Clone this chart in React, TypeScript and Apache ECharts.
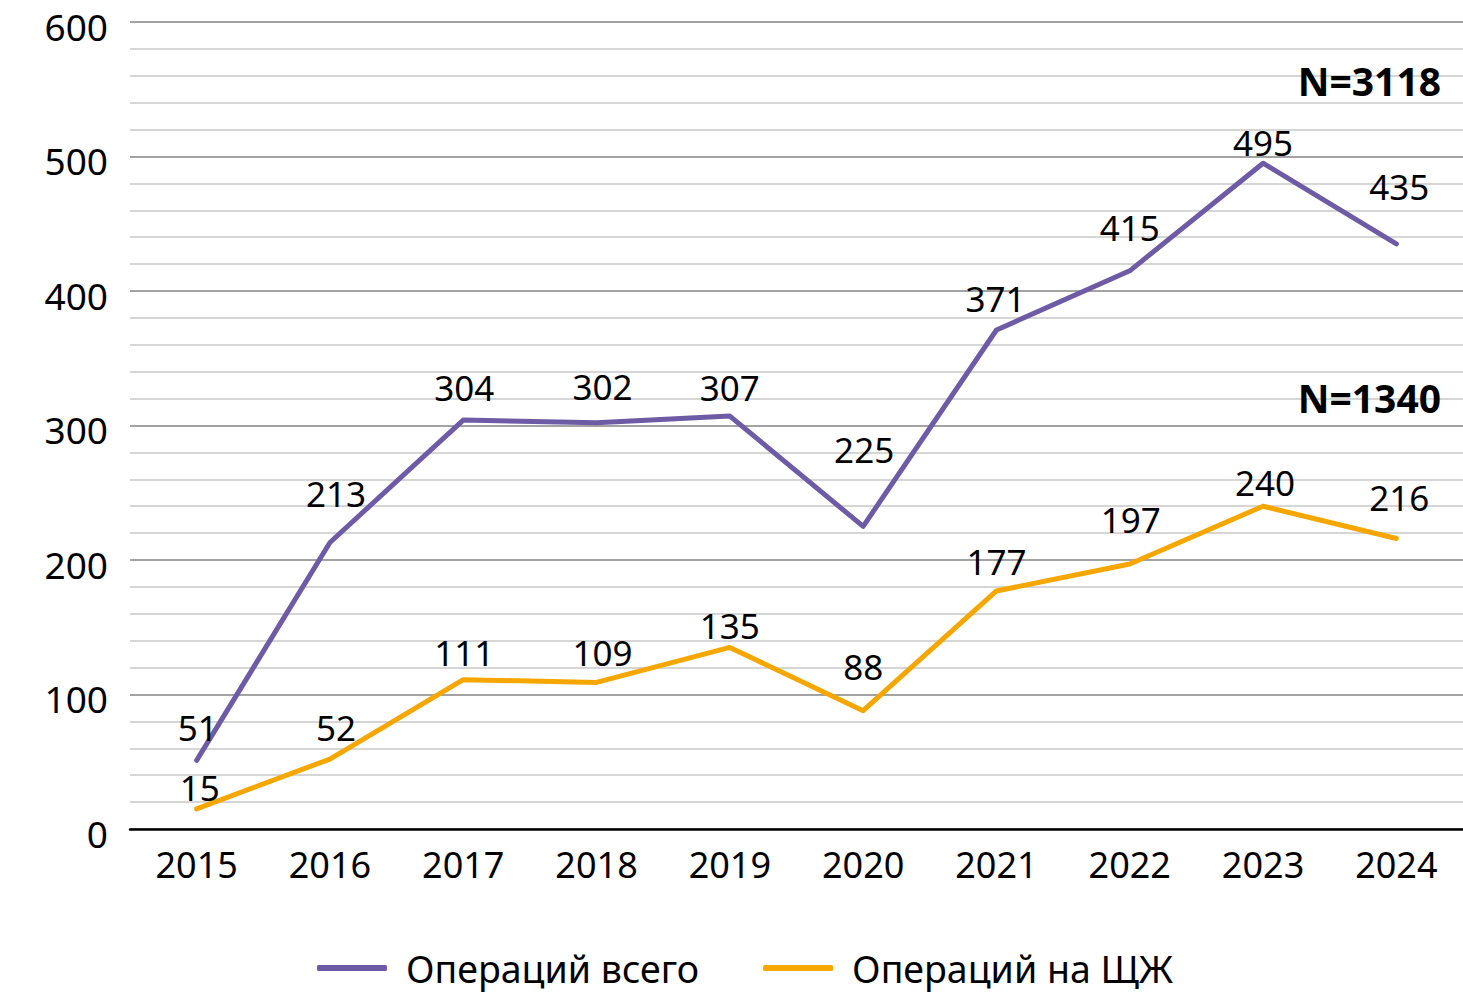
import React, { useEffect, useRef } from "react";
import * as echarts from "echarts";

const years = ["2015", "2016", "2017", "2018", "2019", "2020", "2021", "2022", "2023", "2024"];
const totalOps = [51, 213, 304, 302, 307, 225, 371, 415, 495, 435];
const thyroidOps = [15, 52, 111, 109, 135, 88, 177, 197, 240, 216];
const seriesNames = ["Операций всего", "Операций на ЩЖ"];
const totalNote = "N=3118";
const thyroidNote = "N=1340";

// label placement (layout only): [dx, dy] from the point
const totalLabelOffset = [[1, -32], [6, -48], [1, -32], [6, -35], [0, -28], [1, -76], [-1, -31], [0, -42], [0, -20], [3, -56]];
const thyroidLabelOffset = [[3, -20], [6, -31], [1, -26], [6, -29], [0, -21], [0, -43], [0, -28], [1, -44], [2, -23], [3, -40]];

const FONT = "'Noto Sans', sans-serif";
const PURPLE = "#6E5BA6";
const ORANGE = "#F5A700";

function makeData(values: number[], offs: number[][]) {
  return values.map((v, i) => ({
    value: v,
    label: { offset: [offs[i][0], offs[i][1] - 1] },
  }));
}

export default function App() {
  const ref = useRef<HTMLDivElement>(null);
  useEffect(() => {
    if (!ref.current) return;
    const chart = echarts.init(ref.current, undefined, { renderer: "svg" });
    const labelStyle = {
      show: true,
      position: "inside",
      color: "#000",
      fontFamily: FONT,
      fontSize: 35,
    };
    chart.setOption({
      animation: false,
      backgroundColor: "#fff",
      textStyle: { fontFamily: FONT },
      grid: { left: 130, right: 0, top: 22, bottom: 171, containLabel: false },
      xAxis: {
        type: "category",
        data: years,
        boundaryGap: true,
        axisLine: { show: true, lineStyle: { color: "#000", width: 2.5 } },
        axisTick: { show: false },
        axisLabel: { color: "#000", fontSize: 36, fontFamily: FONT, margin: 17 },
        splitLine: { show: false },
        z: 5,
      },
      yAxis: [
        {
          type: "value",
          min: 0,
          max: 600,
          interval: 20,
          axisLine: { show: false },
          axisTick: { show: false },
          axisLabel: { show: false },
          splitLine: { show: true, lineStyle: { color: "#C8C8C8", width: 1.5 } },
        },
        {
          type: "value",
          min: 0,
          max: 600,
          interval: 100,
          position: "left",
          axisLine: { show: false },
          axisTick: { show: false },
          axisLabel: {
            color: "#000",
            fontSize: 37,
            fontFamily: FONT,
            margin: 22,
            verticalAlign: "top",
            lineHeight: 8,
          },
          splitLine: { show: true, lineStyle: { color: "#A3A3A3", width: 2.2 } },
        },
      ],
      legend: {
        bottom: 8,
        left: 312,
        itemWidth: 70,
        itemHeight: 6,
        itemGap: 64,
        icon: "roundRect",
        textStyle: { color: "#000", fontSize: 37.5, fontFamily: FONT, padding: [0, 0, 0, 14] },
        data: [
          { name: seriesNames[0], itemStyle: { color: PURPLE, opacity: 1 } },
          { name: seriesNames[1], itemStyle: { color: ORANGE, opacity: 1 } },
        ],
      },
      series: [
        {
          name: seriesNames[0],
          type: "line",
          data: makeData(totalOps, totalLabelOffset),
          yAxisIndex: 0,
          color: PURPLE,
          lineStyle: { color: PURPLE, width: 5, cap: "round", join: "round" },
          itemStyle: { color: PURPLE },
          symbol: "circle",
          symbolSize: 0.01,
          showSymbol: true,
          label: labelStyle,
          z: 3,
        },
        {
          name: seriesNames[1],
          type: "line",
          data: makeData(thyroidOps, thyroidLabelOffset),
          yAxisIndex: 0,
          color: ORANGE,
          lineStyle: { color: ORANGE, width: 5, cap: "round", join: "round" },
          itemStyle: { color: ORANGE },
          symbol: "circle",
          symbolSize: 0.01,
          showSymbol: true,
          label: labelStyle,
          z: 3,
        },
      ],
      graphic: [
        {
          type: "text",
          right: 22,
          top: 61,
          z: 100,
          style: { text: totalNote, fontFamily: FONT, fontWeight: "bold", fontSize: 39, fill: "#000" },
        },
        {
          type: "text",
          right: 22,
          top: 378,
          z: 100,
          style: { text: thyroidNote, fontFamily: FONT, fontWeight: "bold", fontSize: 39, fill: "#000" },
        },
      ],
    });
    return () => chart.dispose();
  }, []);
  return (
    <div
      ref={ref}
      style={{ position: "absolute", left: 0, top: 0, width: 1463, height: 1000 }}
    />
  );
}
